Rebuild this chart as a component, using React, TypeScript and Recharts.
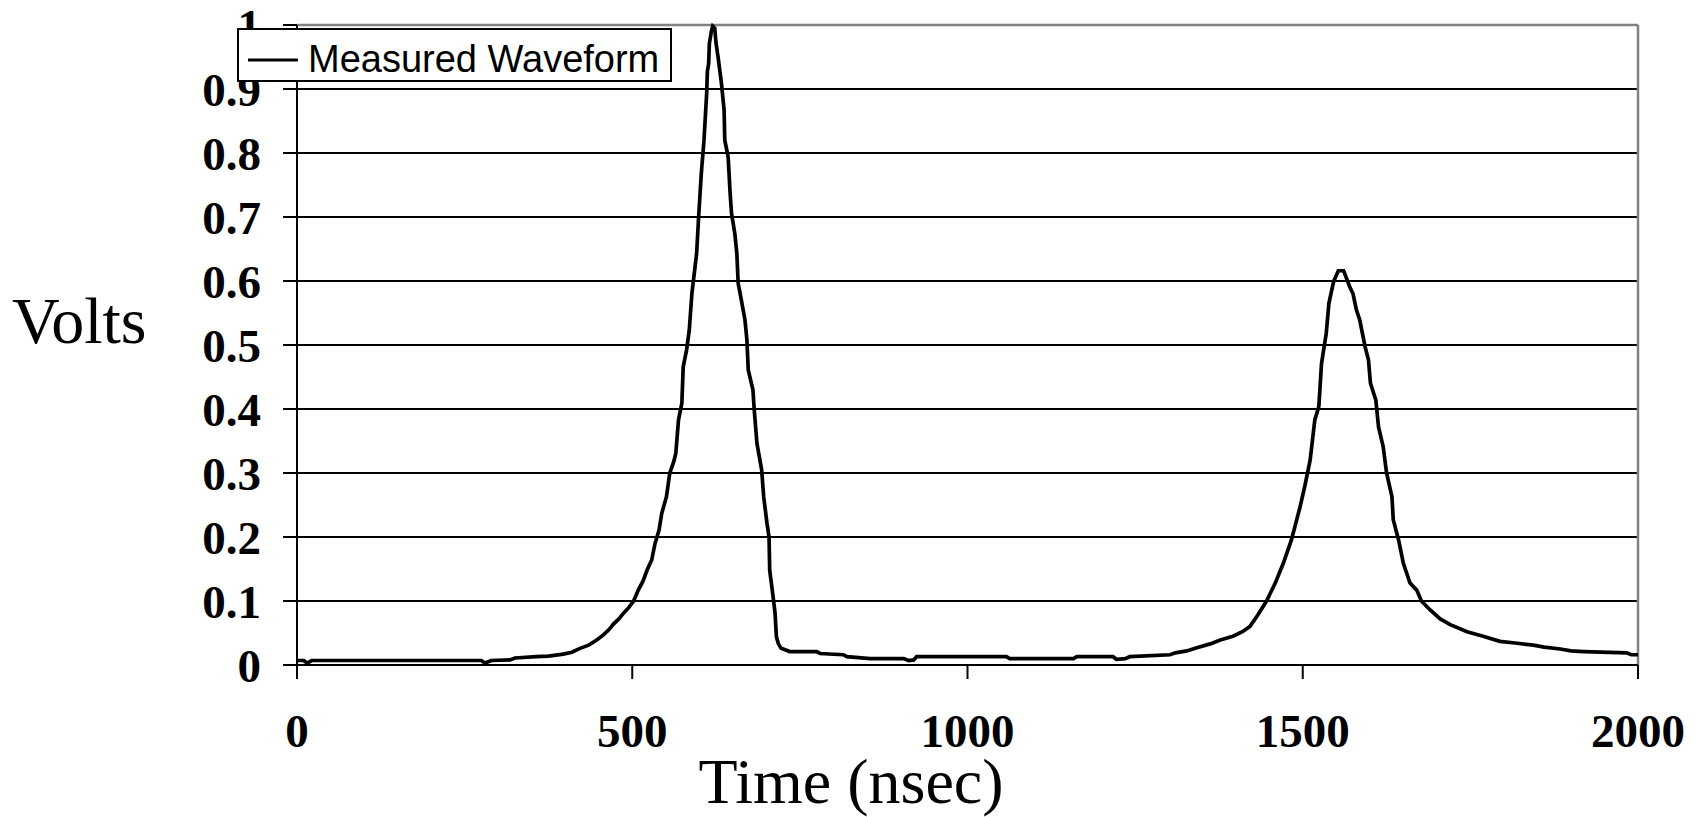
import React from 'react';
import { LineChart, Line, XAxis, YAxis, CartesianGrid, ReferenceLine, Label } from 'recharts';

const seriesName = 'Measured Waveform';
const xTitle = 'Time (nsec)';
const yTitle = 'Volts';

const xTicks = [0, 500, 1000, 1500, 2000];
const yTicks = [0, 0.1, 0.2, 0.3, 0.4, 0.5, 0.6, 0.7, 0.8, 0.9, 1];
const yTickLabels = ['0', '0.1', '0.2', '0.3', '0.4', '0.5', '0.6', '0.7', '0.8', '0.9', '1'];

const timeNs = [
  0, 10, 15, 22, 100, 200, 275, 280, 290, 318, 325, 357, 375, 397, 410, 422, 435, 447, 457, 465,
  472, 480, 487, 495, 502, 509, 516, 522, 529, 534, 540, 544, 551, 556, 562, 565, 569, 574, 576, 581,
  585, 589, 596, 599, 603, 607, 611, 612, 614, 615, 618, 620, 623, 625, 628, 633, 637, 638, 643, 646,
  648, 653, 656, 658, 661, 668, 671, 673, 680, 682, 686, 693, 696, 701, 704, 705, 710, 713, 715, 718,
  722, 735, 775, 780, 815, 820, 855, 905, 912, 920, 924, 1058, 1063, 1158, 1163, 1217, 1222, 1235, 1242, 1302,
  1310, 1327, 1342, 1362, 1377, 1396, 1410, 1421, 1433, 1446, 1459, 1471, 1483, 1496, 1503, 1511, 1518, 1524, 1528, 1535,
  1539, 1546, 1553, 1561, 1570, 1575, 1580, 1585, 1593, 1598, 1601, 1609, 1613, 1620, 1625, 1633, 1635, 1643, 1650, 1660,
  1670, 1677, 1690, 1705, 1720, 1745, 1769, 1794, 1820, 1844, 1860, 1884, 1900, 1919, 1983, 1990, 2000,
];

const volts = [
  0.007, 0.007, 0.003, 0.007, 0.007, 0.007, 0.007, 0.003, 0.007, 0.008, 0.011, 0.013, 0.014, 0.017, 0.02, 0.026, 0.031, 0.039, 0.047, 0.055,
  0.064, 0.072, 0.081, 0.09, 0.1, 0.117, 0.131, 0.148, 0.164, 0.19, 0.211, 0.237, 0.263, 0.3, 0.318, 0.331, 0.383, 0.409, 0.466, 0.492,
  0.523, 0.581, 0.643, 0.7, 0.768, 0.82, 0.893, 0.927, 0.94, 0.971, 0.99, 0.998, 0.995, 0.971, 0.95, 0.909, 0.867, 0.82, 0.794, 0.737,
  0.706, 0.674, 0.643, 0.596, 0.58, 0.54, 0.508, 0.461, 0.43, 0.398, 0.346, 0.305, 0.263, 0.221, 0.2, 0.148, 0.107, 0.081, 0.044, 0.033,
  0.026, 0.021, 0.021, 0.018, 0.016, 0.013, 0.01, 0.01, 0.007, 0.008, 0.013, 0.013, 0.01, 0.01, 0.013, 0.013, 0.009, 0.01, 0.013, 0.016,
  0.019, 0.022, 0.027, 0.033, 0.039, 0.045, 0.052, 0.06, 0.078, 0.1, 0.128, 0.159, 0.195, 0.247, 0.279, 0.32, 0.383, 0.404, 0.471, 0.518,
  0.565, 0.599, 0.616, 0.616, 0.591, 0.58, 0.555, 0.539, 0.497, 0.477, 0.44, 0.414, 0.372, 0.341, 0.3, 0.263, 0.227, 0.195, 0.159, 0.128,
  0.117, 0.1, 0.086, 0.072, 0.063, 0.052, 0.045, 0.037, 0.034, 0.031, 0.028, 0.025, 0.022, 0.021, 0.019, 0.016, 0.016,
];

const data = timeNs.map((t, i) => ({ t, v: volts[i] }));

const SERIF = '"Liberation Serif", "Times New Roman", serif';
const SANS = '"Liberation Sans", Arial, sans-serif';

const renderXTitle = (props: any) => {
  const vb = (props && props.viewBox) || { x: 297, y: 665, width: 1341, height: 152 };
  return (
    <text x={vb.x + 554} y={vb.y + 138} textAnchor="middle" fontFamily={SERIF} fontSize={64} fill="#000">
      {xTitle}
    </text>
  );
};

const renderYTitle = (props: any) => {
  const vb = (props && props.viewBox) || { x: 0, y: 25, width: 297, height: 640 };
  return (
    <text x={vb.x + 12} y={vb.y + 318} textAnchor="start" fontFamily={SERIF} fontSize={66} fill="#000">
      {yTitle}
    </text>
  );
};

const tickStyle = { fill: '#000', fontSize: 47, fontWeight: 'bold', fontFamily: SERIF } as any;

export default function App() {
  return (
    <div style={{ position: 'absolute', left: 0, top: 0, width: 1702, height: 817, background: '#fff' }}>
      <LineChart width={1702} height={817} data={data} margin={{ top: 25, right: 64, left: 0, bottom: 0 }}>
        <CartesianGrid vertical={false} stroke="#000" strokeWidth={1.8} />
        <XAxis
          dataKey="t"
          type="number"
          domain={[0, 2000]}
          ticks={xTicks}
          height={152}
          tick={tickStyle}
          tickSize={14}
          tickMargin={35}
          axisLine={{ stroke: '#000', strokeWidth: 2 }}
          tickLine={{ stroke: '#000', strokeWidth: 2 }}
          interval={0}
        >
          <Label content={renderXTitle} />
        </XAxis>
        <YAxis
          type="number"
          domain={[0, 1]}
          ticks={yTicks}
          width={297}
          tick={tickStyle}
          tickSize={14}
          tickMargin={22}
          tickFormatter={(v: number) => {
            const i = yTicks.indexOf(v);
            return i >= 0 ? yTickLabels[i] : String(v);
          }}
          axisLine={{ stroke: '#000', strokeWidth: 2 }}
          tickLine={{ stroke: '#000', strokeWidth: 2 }}
          interval={0}
        >
          <Label content={renderYTitle} />
        </YAxis>
        <ReferenceLine y={1} stroke="#808080" strokeWidth={2.5} />
        <ReferenceLine x={2000} stroke="#808080" strokeWidth={2.5} />
        <Line
          type="linear"
          dataKey="v"
          name={seriesName}
          stroke="#000"
          strokeWidth={3.7}
          dot={false}
          activeDot={false}
          isAnimationActive={false}
        />
      </LineChart>
      <div
        style={{
          position: 'absolute',
          left: 237,
          top: 28,
          width: 435,
          height: 54,
          boxSizing: 'border-box',
          border: '2px solid #000',
          background: '#fff',
        }}
      >
        <svg width={431} height={50} style={{ display: 'block' }}>
          <line x1={9} x2={59} y1={30} y2={30} stroke="#000" strokeWidth={3} />
          <text x={69} y={42} fontFamily={SANS} fontSize={38} fill="#000">
            {seriesName}
          </text>
        </svg>
      </div>
    </div>
  );
}
